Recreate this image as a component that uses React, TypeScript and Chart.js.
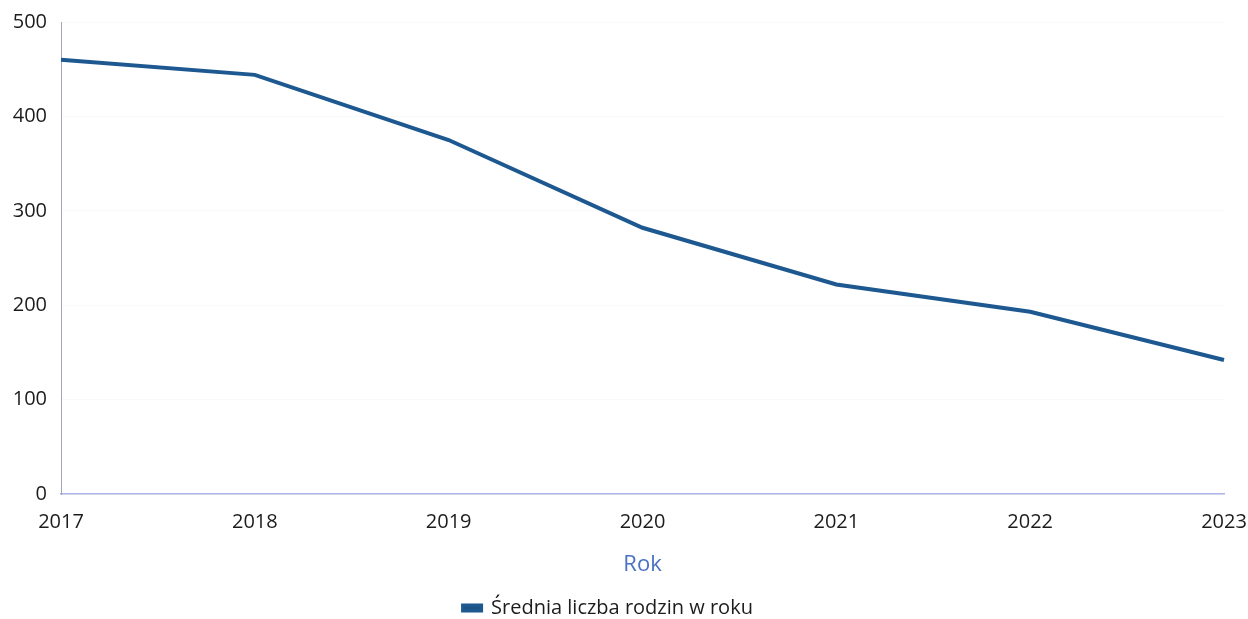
import React, { useEffect, useRef } from "react";
import { Chart, registerables } from "chart.js";

Chart.register(...registerables);

const years = ["2017", "2018", "2019", "2020", "2021", "2022", "2023"];
const averageFamilies = [460, 444, 375, 282, 222, 193, 142];
const seriesLabel = "Średnia liczba rodzin w roku";
const xTitle = "Rok";

const legendShift = {
  id: "legendShift",
  afterLayout(chart: any) {
    if (chart.legend) {
      chart.legend.right = chart.legend.left + 1216;
    }
  },
};

export default function App() {
  const ref = useRef<HTMLCanvasElement | null>(null);

  useEffect(() => {
    document.body.style.margin = "0";
    const ctx = ref.current!;
    const chart = new Chart(ctx, {
      type: "line",
      data: {
        labels: years,
        datasets: [
          {
            label: seriesLabel,
            data: averageFamilies,
            borderColor: "#1d5890",
            backgroundColor: "#1f4a78",
            borderWidth: 4,
            pointRadius: 0,
            tension: 0,
          },
        ],
      },
      plugins: [legendShift],
      options: {
        animation: false,
        responsive: false,
        maintainAspectRatio: false,
        layout: { padding: 0 },
        plugins: {
          tooltip: { enabled: false },
          legend: {
            position: "bottom",
            labels: {
              boxWidth: 18,
              boxHeight: 5,
              color: "#1c1c1c",
              padding: 20,
              font: { family: "Open Sans", size: 20, weight: "500" },
            },
          },
        },
        scales: {
          x: {
            offset: false,
            grid: { display: false, drawTicks: false },
            border: { display: true, color: "#aab4e6", width: 1.5 },
            ticks: {
              color: "#1c1c1c",
              font: { family: "Open Sans", size: 20, weight: "500" },
              padding: 16,
              maxRotation: 0,
            },
            title: {
              display: true,
              text: xTitle,
              color: "#4a72c4",
              font: { family: "Open Sans", size: 22 },
              padding: { top: 0, bottom: 0 },
            },
            afterFit: (scale: any) => {
              scale.height = 84;
              scale.paddingRight = 24;
              scale.paddingLeft = 0;
            },
          },
          y: {
            min: 0,
            max: 500,
            ticks: {
              stepSize: 100,
              color: "#1c1c1c",
              font: { family: "Open Sans", size: 20, weight: "500" },
              padding: 14,
            },
            grid: { color: "rgba(0,0,0,0.025)", drawTicks: false },
            border: { display: true, color: "#a4a4c0", width: 1 },
            afterFit: (scale: any) => {
              scale.width = 61;
              scale.paddingTop = 22;
              scale.paddingBottom = 0;
            },
          },
        },
      },
    });
    const lg: any = (chart as any).legend;
    if (lg) {
      const origFit = lg.fit.bind(lg);
      lg.fit = function () {
        origFit();
        this.height = 41;
      };
      chart.update();
    }
    return () => chart.destroy();
  }, []);

  return (
    <div style={{ position: "absolute", left: 0, top: 0, width: 1248, height: 619, background: "#fff" }}>
      <canvas ref={ref} width={1248} height={619} style={{ width: 1248, height: 619 }} />
    </div>
  );
}
